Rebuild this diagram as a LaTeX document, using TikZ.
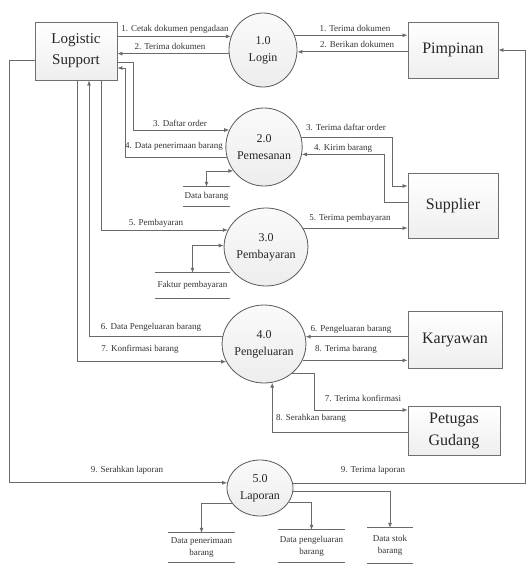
\documentclass[tikz,border=0pt]{standalone}
\usepackage{fontspec}
\setmainfont{Liberation Serif}
\usetikzlibrary{arrows.meta,shapes.geometric,shadows}
\definecolor{linec}{HTML}{6A6A6A}
\definecolor{boxline}{HTML}{707070}
\begin{document}
\begin{tikzpicture}[x=1pt,y=-1pt,
  ent/.style={draw=boxline, line width=0.9pt, top color=white, bottom color=gray!13,
    drop shadow={shadow xshift=1.2pt,shadow yshift=-1.2pt,opacity=0.3},
    font=\fontsize{16}{22}\selectfont, align=center, inner sep=0pt, text=black!85},
  proc/.style={ellipse, draw=gray!70!black, line width=0.8pt, inner sep=0pt,
    minimum width=68pt, minimum height=78pt, top color=gray!4, bottom color=gray!14,
    font=\fontsize{12}{17}\selectfont, align=center, text=black!85},
  flow/.style={draw=linec, line width=0.8pt, -{Latex[length=5pt,width=4pt]}},
  bflow/.style={draw=linec, line width=0.8pt, {Latex[length=5pt,width=4pt]}-{Latex[length=5pt,width=4pt]}},
  lbl/.style={font=\fontsize{9}{10}\selectfont, inner sep=0pt, text=black!80},
  storetxt/.style={font=\fontsize{9}{12}\selectfont, align=center, inner sep=0pt, text=black!80},
  storeline/.style={draw=linec, line width=0.9pt},
]
\useasboundingbox[fill=white] (0,0) rectangle (527,564);

% entities
\node[ent, minimum width=82pt, minimum height=58pt, font=\fontsize{15}{21}\selectfont] (LS) at (76,51) {Logistic\\Support};
\node[ent, minimum width=90pt, minimum height=56pt] (Pim) at (453,50) {Pimpinan};
\node[ent, minimum width=90pt, minimum height=65pt] (Sup) at (453,205.5) {Supplier};
\node[ent, minimum width=94pt, minimum height=57pt] (Kar) at (455,339.5) {Karyawan};
\node[ent, minimum width=92pt, minimum height=49pt] (Pet) at (454,430.5) {Petugas\\Gudang};

% processes
\node[proc, minimum height=74pt] (P1) at (263,50) {1.0\\Login};
\node[proc] (P2) at (264,147) {2.0\\Pemesanan};
\node[proc] (P3) at (266,247) {3.0\\Pembayaran};
\node[proc] (P4) at (264,344) {4.0\\Pengeluaran};
\node[proc, minimum width=66pt, minimum height=56pt] (P5) at (260,488) {5.0\\Laporan};

% data stores
\node[storetxt, minimum width=47pt, minimum height=19pt] (DB) at (206.5,196.5) {Data barang};
\node[storetxt, minimum width=75pt, minimum height=25pt] (FP) at (192.5,285.5) {Faktur pembayaran};
\node[storetxt, minimum width=67pt, minimum height=29pt] (DP) at (201.5,547.5) {Data penerimaan\\barang};
\node[storetxt, minimum width=67pt, minimum height=32pt] (DK) at (311.5,546) {Data pengeluaran\\barang};
\node[storetxt, minimum width=46pt, minimum height=35pt] (DS) at (390,545.5) {Data stok\\barang};
\foreach \s in {DB,FP,DP,DK,DS}{
  \draw[storeline] (\s.north west) -- (\s.north east);
  \draw[storeline] (\s.south west) -- (\s.south east);
}

% flows: Logistic Support <-> Login <-> Pimpinan
\draw[flow] (LS.east |- P1.157.8) -- (P1.157.8);
\draw[flow] (P1.186.7) -- (LS.east |- P1.186.7);
\draw[flow] (P1.25.8) -- (Pim.west |- P1.25.8);
\draw[flow] (Pim.west |- P1.-3.4) -- (P1.-3.4);

% Pemesanan
\draw[flow] ([yshift=-11pt]LS.east) -- ++(16,0) |- (P2.154.5);
\draw[flow] (P2.196.9) -| ([xshift=8pt,yshift=-17pt]LS.east) -- ([yshift=-17pt]LS.east);
\draw[bflow] (P2.218.1) -| (DB.north);
\draw[flow] (P2.15.2) -| ([xshift=-15pt,yshift=19.5pt]Sup.west) -- ([yshift=19.5pt]Sup.west);
\draw[flow] ([yshift=3.5pt]Sup.west) -- ++(-23,0) |- (P2.-11.8);

% Pembayaran
\draw[flow] ([xshift=25pt]LS.south) |- (P3.156.2);
\draw[bflow] (P3.178.3) -| (FP.north);
\draw[flow] (P3.27.3) -- (Sup.west |- P3.27.3);

% Pengeluaran
\draw[flow] (P4.169.9) -| ([xshift=13pt]LS.south);
\draw[flow] ([xshift=1pt]LS.south) |- (P4.205.5);
\draw[flow] (Kar.west |- P4.10.1) -- (P4.10.1);
\draw[flow] (P4.-23.8) -- (Kar.west |- P4.-23.8);
\draw[flow] (P4.-47.8) -| ([xshift=-93pt,yshift=20.5pt]Pet.west) -- ([yshift=20.5pt]Pet.west);
\draw[flow] ([yshift=-1.5pt]Pet.west) -| (P4.-78.1);

% Laporan
\draw[flow] ([yshift=-9pt]LS.west) -- ++(-25,0) |- (P5.171.3);
\draw[flow] (P5.8.7) -| ([xshift=27pt]Pim.east) -- (Pim.east);
\draw[flow] (P5.208.3) -| (DP.north);
\draw[flow] (P5.-26.1) -| (DK.north);
\draw[flow] (P5.-5.2) -| (DS.north);

% labels
\node[lbl] (lb1) at (175,29) {1. Cetak dokumen pengadaan};
\node[lbl] (lb2) at (170,46) {2. Terima dokumen};
\node[lbl] (lb3) at (355,28) {1. Terima dokumen};
\node[lbl] (lb4) at (357,44) {2. Berikan dokumen};
\node[lbl] (lb5) at (180,123) {3. Daftar order};
\node[lbl] (lb6) at (174,146) {4. Data penerimaan barang};
\node[lbl] (lb7) at (156,223) {5. Pembayaran};
\node[lbl] (lb8) at (346,127) {3. Terima daftar order};
\node[lbl] (lb9) at (343,148) {4. Kirim barang};
\node[lbl] (lb10) at (350,218) {5. Terima pembayaran};
\node[lbl] (lb11) at (151,327) {6. Data Pengeluaran barang};
\node[lbl] (lb12) at (140,349) {7. Konfirmasi barang};
\node[lbl] (lb13) at (351,329) {6. Pengeluaran barang};
\node[lbl] (lb14) at (346,349) {8. Terima barang};
\node[lbl] (lb15) at (363,398) {7. Terima konfirmasi};
\node[lbl] (lb16) at (311,418) {8. Serahkan barang};
\node[lbl] (lb17) at (127,470) {9. Serahkan laporan};
\node[lbl] (lb18) at (373,470) {9. Terima laporan};
\end{tikzpicture}
\end{document}
